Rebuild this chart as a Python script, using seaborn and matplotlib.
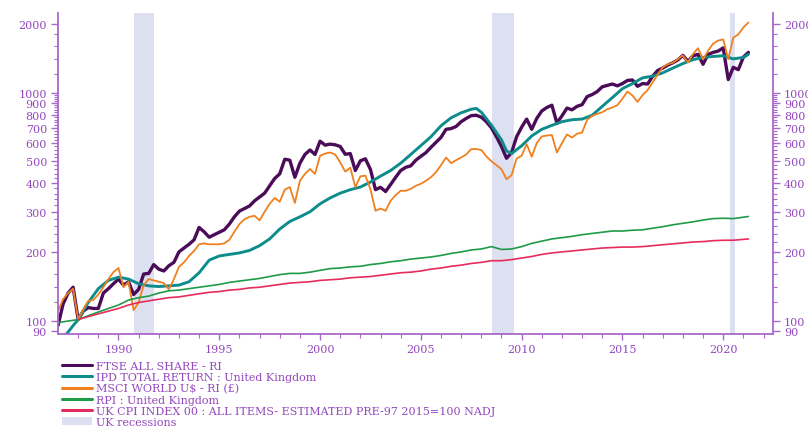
import numpy as np
import pandas as pd
import matplotlib
matplotlib.use("Agg")
import matplotlib.pyplot as plt
import seaborn as sns
from matplotlib.lines import Line2D
from matplotlib.patches import Patch

sns.set_theme(style="white")
plt.rcParams["font.family"] = ["DejaVu Serif"]

# ---- data (index levels, log scale) ----
quarters = np.arange(1987.0, 2021.26, 0.25)

ftse = [
    95, 118, 132, 140,
    101, 110, 114, 113,
    113, 132, 138, 145,
    152, 143, 148, 130,
    137, 160, 161, 176,
    168, 165, 174, 180,
    200, 208, 216, 226,
    256, 245, 232, 238,
    244, 250, 265, 285,
    302, 310, 318, 335,
    348, 362, 390, 420,
    440, 510, 505, 425,
    490, 535, 560, 535,
    612, 588, 594, 590,
    580, 536, 540, 455,
    502, 512, 460, 375,
    384, 368, 395, 425,
    455, 470, 477, 505,
    525, 545, 575, 605,
    636, 690, 695, 710,
    745, 770, 792, 795,
    780, 745, 700, 640,
    580, 515, 545, 640,
    705, 765, 690, 770,
    830, 860, 880, 735,
    790, 855, 840, 870,
    885, 960, 980, 1010,
    1060, 1075, 1090, 1070,
    1095, 1130, 1135, 1065,
    1095, 1090, 1180, 1250,
    1280, 1320, 1350, 1390,
    1455, 1370, 1450, 1470,
    1330, 1470, 1500, 1520,
    1570, 1140, 1290, 1260,
    1430, 1500,
]

msci = [
    110, 124, 132, 138,
    101, 112, 122, 123,
    130, 140, 152, 163,
    170, 140, 148, 111,
    120, 143, 152, 150,
    148, 146, 137, 152,
    172, 180, 192, 202,
    216, 218, 216, 216,
    216, 218, 226, 245,
    265, 278, 285, 288,
    275, 300, 325, 345,
    332, 375, 385, 328,
    410, 440, 462, 440,
    528, 540, 546, 535,
    494, 450, 468, 385,
    429, 432, 377, 303,
    310, 303, 335, 355,
    371, 371, 378, 390,
    398, 410, 425, 447,
    480, 519, 490, 505,
    519, 535, 565, 565,
    560, 525, 500, 480,
    461, 417, 434, 513,
    528, 594, 523, 600,
    642, 648, 651, 546,
    600, 655, 635, 660,
    668, 760, 790, 806,
    820, 845, 860, 880,
    940, 1010, 970, 910,
    975, 1025, 1110, 1200,
    1290, 1330, 1350, 1400,
    1455, 1355, 1475, 1565,
    1400, 1525, 1640, 1690,
    1710, 1400, 1740, 1800,
    1930, 2030,
]

ipd_years = [1987.25, 1987.5, 1987.75, 1988.0, 1988.5, 1989.0, 1989.5, 1990.0, 1990.5,
             1991.0, 1991.5, 1992.0, 1992.5, 1993.0, 1993.5, 1994.0, 1994.5, 1995.0,
             1995.5, 1996.0, 1996.5, 1997.0, 1997.5, 1998.0, 1998.5, 1999.0, 1999.5,
             2000.0, 2000.5, 2001.0, 2001.5, 2002.0, 2002.5, 2003.0, 2003.5, 2004.0,
             2004.5, 2005.0, 2005.5, 2006.0, 2006.5, 2007.0, 2007.5, 2007.75, 2008.0,
             2008.5, 2009.0, 2009.25, 2009.5, 2010.0, 2010.5, 2011.0, 2011.5, 2012.0,
             2012.5, 2013.0, 2013.5, 2014.0, 2014.5, 2015.0, 2015.5, 2016.0, 2016.5,
             2017.0, 2017.5, 2018.0, 2018.5, 2019.0, 2019.5, 2020.0, 2020.5, 2021.0,
             2021.25]
ipd = [84, 89, 95, 101, 120, 138, 150, 155, 152,
       145, 142, 141, 142, 143, 148, 162, 184, 192,
       195, 198, 203, 213, 228, 252, 272, 285, 300,
       325, 345, 362, 375, 385, 405, 430, 455, 490,
       535, 585, 640, 715, 775, 815, 845, 852, 820,
       720, 620, 555, 540, 584, 645, 690, 718, 745,
       760, 765, 795, 870, 950, 1040, 1095, 1160, 1180,
       1220, 1280, 1340, 1395, 1425, 1440, 1450, 1405, 1425,
       1470]

rpi_years = [1987.0, 1988.0, 1988.5, 1989.0, 1989.5, 1990.0, 1990.5, 1991.0, 1991.5,
             1992.0, 1992.5, 1993.0, 1993.5, 1994.0, 1994.5, 1995.0, 1995.5, 1996.0,
             1996.5, 1997.0, 1997.5, 1998.0, 1998.5, 1999.0, 1999.5, 2000.0, 2000.5,
             2001.0, 2001.5, 2002.0, 2002.5, 2003.0, 2003.5, 2004.0, 2004.5, 2005.0,
             2005.5, 2006.0, 2006.5, 2007.0, 2007.5, 2008.0, 2008.5, 2009.0, 2009.5,
             2010.0, 2010.5, 2011.0, 2011.5, 2012.0, 2012.5, 2013.0, 2013.5, 2014.0,
             2014.5, 2015.0, 2015.5, 2016.0, 2016.5, 2017.0, 2017.5, 2018.0, 2018.5,
             2019.0, 2019.5, 2020.0, 2020.5, 2021.0, 2021.25]
rpi = [98, 101, 105, 109, 113, 117, 123, 126, 128,
       132, 135, 136, 138, 140, 142, 144, 147, 149,
       151, 153, 156, 159, 161, 161, 163, 166, 169,
       170, 172, 173, 176, 178, 181, 183, 186, 188,
       190, 193, 197, 200, 204, 206, 211, 205, 206,
       211, 218, 223, 228, 231, 234, 238, 241, 244,
       247, 247, 249, 250, 254, 258, 263, 267, 271,
       276, 280, 281, 280, 284, 286]

cpi_years = [1988.0, 1988.5, 1989.0, 1989.5, 1990.0, 1990.5, 1991.0, 1991.5,
             1992.0, 1992.5, 1993.0, 1993.5, 1994.0, 1994.5, 1995.0, 1995.5, 1996.0,
             1996.5, 1997.0, 1997.5, 1998.0, 1998.5, 1999.0, 1999.5, 2000.0, 2000.5,
             2001.0, 2001.5, 2002.0, 2002.5, 2003.0, 2003.5, 2004.0, 2004.5, 2005.0,
             2005.5, 2006.0, 2006.5, 2007.0, 2007.5, 2008.0, 2008.5, 2009.0, 2009.5,
             2010.0, 2010.5, 2011.0, 2011.5, 2012.0, 2012.5, 2013.0, 2013.5, 2014.0,
             2014.5, 2015.0, 2015.5, 2016.0, 2016.5, 2017.0, 2017.5, 2018.0, 2018.5,
             2019.0, 2019.5, 2020.0, 2020.5, 2021.0, 2021.25]
cpi = [101, 104, 107, 110, 113, 117, 120, 122,
       124, 126, 127, 129, 131, 133, 134, 136, 137,
       139, 140, 142, 144, 146, 147, 148, 150, 151,
       152, 154, 155, 156, 158, 160, 162, 163, 165,
       168, 170, 173, 175, 178, 180, 183, 183, 185,
       188, 191, 195, 198, 200, 202, 204, 206, 208,
       209, 210, 210, 211, 213, 215, 217, 219, 221,
       222, 224, 225, 225, 227, 228]

recessions = [(1990.75, 1991.75), (2008.55, 2009.6), (2020.33, 2020.6)]

names = [
    "FTSE ALL SHARE - RI",
    "IPD TOTAL RETURN : United Kingdom",
    "MSCI WORLD U$ - RI (£)",
    "RPI : United Kingdom",
    "UK CPI INDEX 00 : ALL ITEMS- ESTIMATED PRE-97 2015=100 NADJ",
]
colors = ["#4A0C58", "#0E8C8C", "#F0801E", "#1E9A48", "#E62C5C"]
widths = [2.4, 2.1, 1.3, 1.2, 1.2]

frames = [
    pd.DataFrame({"year": quarters, "value": ftse, "series": names[0]}),
    pd.DataFrame({"year": ipd_years, "value": ipd, "series": names[1]}),
    pd.DataFrame({"year": quarters, "value": msci, "series": names[2]}),
    pd.DataFrame({"year": rpi_years, "value": rpi, "series": names[3]}),
    pd.DataFrame({"year": cpi_years, "value": cpi, "series": names[4]}),
]
data = pd.concat(frames, ignore_index=True)

purple_axis = "#A868CC"
purple_text = "#9448BE"
band_color = "#DDE0F0"

fig = plt.figure(figsize=(8.08, 4.27), dpi=100)
ax = fig.add_axes([58 / 808, 1 - 335 / 427, (773 - 58) / 808, (335 - 14) / 427])

for lo, hi in recessions:
    ax.axvspan(lo, hi, color=band_color, lw=0, zorder=0)

for name, col, lw in zip(names, colors, widths):
    sns.lineplot(data=data[data["series"] == name], x="year", y="value",
                 color=col, linewidth=lw, ax=ax, legend=False, zorder=2,
                 solid_joinstyle="round")

ymin, ymax = 87.3, 2233
major_y = [90, 100, 200, 300, 400, 500, 600, 700, 800, 900, 1000, 2000]
minor_y = [v for v in range(120, 1000, 20) if v % 100 != 0] + [1200, 1400, 1600, 1800]

ax.set_yscale("log")
ax.set_ylim(ymin, ymax)
ax.set_xlim(1987.0, 2022.47)
ax.set_xlabel("")
ax.set_ylabel("")
ax.grid(False)

ax.set_xticks([1990, 1995, 2000, 2005, 2010, 2015, 2020])
ax.set_xticks(list(range(1988, 2023)), minor=True)
ax.set_xticklabels(["1990", "1995", "2000", "2005", "2010", "2015", "2020"])

def style_y(a, side):
    a.set_yscale("log")
    a.set_ylim(ymin, ymax)
    a.set_yticks(major_y)
    a.set_yticklabels([str(v) for v in major_y])
    a.set_yticks(minor_y, minor=True)
    a.yaxis.set_minor_formatter(plt.NullFormatter())
    kw = {side: True}
    a.tick_params(axis="y", which="major", length=5, width=1.0, color=purple_axis,
                  labelcolor=purple_text, labelsize=8, pad=3, direction="out", **kw)
    a.tick_params(axis="y", which="minor", length=3, width=0.8, color=purple_axis,
                  direction="out", **kw)

style_y(ax, "left")
ax.tick_params(axis="x", which="major", bottom=True, length=4, width=1.0, color=purple_axis,
               labelcolor=purple_text, labelsize=8, pad=3, direction="out")
ax.tick_params(axis="x", which="minor", bottom=True, length=3, width=0.8, color=purple_axis,
               direction="out")

ax2 = ax.twinx()
style_y(ax2, "right")
ax2.grid(False)

for a in (ax, ax2):
    a.spines["top"].set_visible(False)
    for s in ("left", "right", "bottom"):
        a.spines[s].set_color(purple_axis)
        a.spines[s].set_linewidth(1.3)
ax.spines["right"].set_visible(False)
ax2.spines["left"].set_visible(False)
ax2.spines["bottom"].set_visible(False)

handles = [Line2D([0], [0], color=c, lw=2.2) for c in colors]
handles.append(Patch(facecolor=band_color, edgecolor="none"))
labels = names + ["UK recessions"]
fig.legend(handles, labels, loc="upper left", bbox_to_anchor=(62 / 808, 1 - 362 / 427),
           frameon=False, fontsize=8, labelcolor=purple_text, handlelength=2.7,
           handleheight=0.7, handletextpad=0.4, labelspacing=0.1, borderaxespad=0,
           borderpad=0)

fig.savefig("out.png", dpi=100)
